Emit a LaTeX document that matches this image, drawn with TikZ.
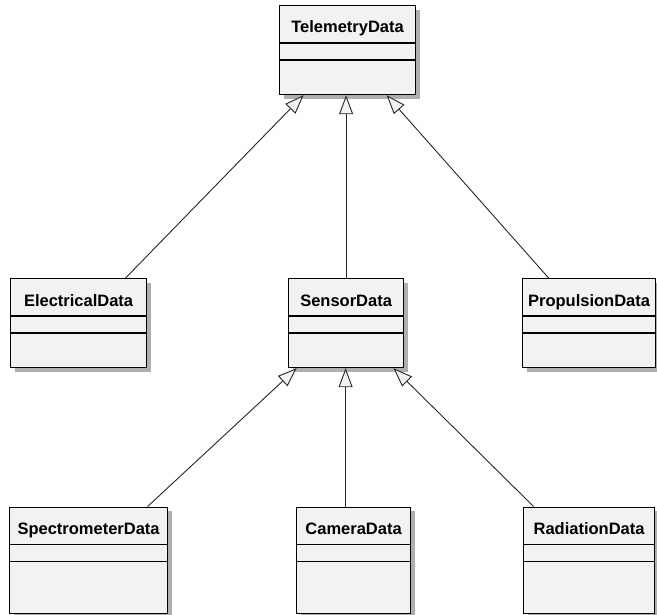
\documentclass[tikz,border=0pt]{standalone}
\usepackage{fontspec}
\setmainfont{Liberation Sans}
\usetikzlibrary{arrows.meta,shadows}

\definecolor{boxfill}{RGB}{242,242,242}
\definecolor{shadowgray}{RGB}{175,175,175}

\tikzset{
    classbox/.style={draw=black, line width=1.2pt, fill=boxfill, inner sep=0pt,
        anchor=north west, minimum width=#1,
        drop shadow={shadow xshift=4pt, shadow yshift=-4pt, fill=shadowgray, opacity=1}},
    classname/.style={font=\bfseries\fontsize{16.5}{18}\selectfont, anchor=base, inner sep=0pt},
    inherit/.style={draw=black!85, line width=0.9pt,
        -{Triangle[length=19pt, width=14pt, fill=boxfill]}},
}

\begin{document}
\begin{tikzpicture}[x=1pt, y=-1pt]
    \useasboundingbox (0,0) rectangle (657,615);

    % class boxes
    \node[classbox=136pt, minimum height=89pt] (tele) at (279,5) {};
    \node[classbox=136pt, minimum height=89pt] (elec) at (10,278) {};
    \node[classbox=115pt, minimum height=89pt] (sens) at (288,278) {};
    \node[classbox=133pt, minimum height=89pt] (prop) at (522,278) {};
    \node[classbox=158pt, minimum height=106pt] (spec) at (9,506.5) {};
    \node[classbox=114pt, minimum height=106pt] (cam) at (296,506.5) {};
    \node[classbox=131pt, minimum height=106pt] (rad) at (523,506.5) {};

    % compartments
    \foreach \c in {tele,elec,sens,prop,spec,cam,rad} {
        \draw[line width=1.2pt] ([yshift=-38pt]\c.north west) -- ([yshift=-38pt]\c.north east);
        \draw[line width=1.2pt] ([yshift=-55pt]\c.north west) -- ([yshift=-55pt]\c.north east);
    }

    % names
    \node[classname] at ([yshift=-28pt]tele.north) {TelemetryData};
    \node[classname] at ([yshift=-28pt]elec.north) {ElectricalData};
    \node[classname] at ([yshift=-28pt]sens.north) {SensorData};
    \node[classname] at ([yshift=-28pt]prop.north) {PropulsionData};
    \node[classname] at ([yshift=-28pt]spec.north) {SpectrometerData};
    \node[classname] at ([yshift=-28pt]cam.north) {CameraData};
    \node[classname] at ([yshift=-28pt]rad.north) {RadiationData};

    % generalisations
    \draw[inherit] ([xshift=47pt]elec.north) -- ([xshift=-44pt]tele.south);
    \draw[inherit] (sens.north) -- (sens.north |- tele.south);
    \draw[inherit] ([xshift=-40.5pt]prop.north) -- ([xshift=39pt]tele.south);
    \draw[inherit] ([xshift=59pt]spec.north) -- ([xshift=-49.5pt]sens.south);
    \draw[inherit] ([xshift=-8pt]cam.north) -- ([xshift=-8pt]cam.north |- sens.south);
    \draw[inherit] ([xshift=-55.5pt]rad.north) -- ([xshift=47.5pt]sens.south);
\end{tikzpicture}
\end{document}
